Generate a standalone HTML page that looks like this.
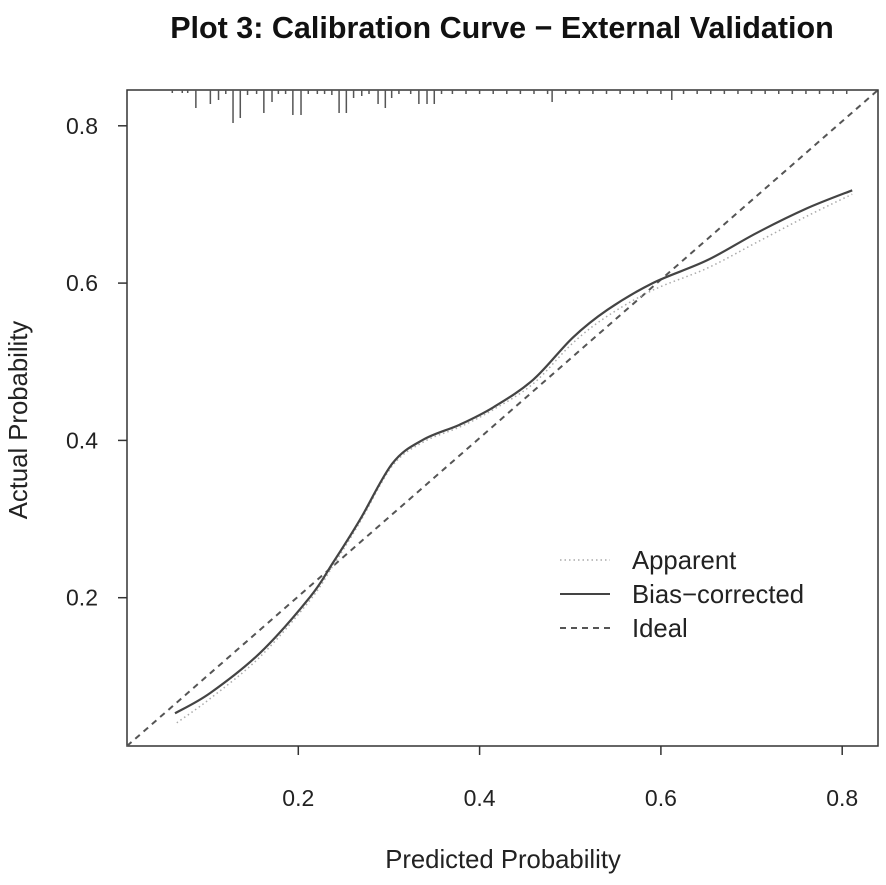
<!DOCTYPE html>
<html><head><meta charset="utf-8"><style>
body{margin:0;background:#fff;}
svg{display:block;font-family:"Liberation Sans",Arial,sans-serif;}
</style></head><body>
<svg id="chart" width="886" height="885">
<text x="502" y="38" text-anchor="middle" font-size="30.5" font-weight="bold" fill="#111">Plot 3: Calibration Curve − External Validation</text>
<rect x="127" y="90" width="751" height="656" fill="none" stroke="#333" stroke-width="1.5"/>
<g id="xt"></g>
<g id="yt"></g>
<g id="rug"></g>
<g id="lines"></g>
<text x="503" y="868" text-anchor="middle" font-size="25.7" fill="#222">Predicted Probability</text>
<text transform="translate(27,420) rotate(-90)" text-anchor="middle" font-size="25.7" fill="#222">Actual Probability</text>
<g>
<g><line x1="560" y1="560" x2="610" y2="560" stroke="#aaa" stroke-width="1.5" stroke-dasharray="1.5,3"/><text x="632" y="569" font-size="25.7" fill="#222">Apparent</text></g>
<g><line x1="560" y1="594" x2="610" y2="594" stroke="#444" stroke-width="2"/><text x="632" y="603" font-size="25.7" fill="#222">Bias−corrected</text></g>
<g><line x1="560" y1="628" x2="610" y2="628" stroke="#555" stroke-width="2" stroke-dasharray="6,5"/><text x="632" y="637" font-size="25.7" fill="#222">Ideal</text></g>
</g>
</svg>
<script>
const xTicks=[0.2,0.4,0.6,0.8];
const yTicks=[0.2,0.4,0.6,0.8];
const biasX=[0.064,0.103,0.158,0.213,0.238,0.268,0.304,0.338,0.378,0.415,0.459,0.503,0.541,0.591,0.651,0.706,0.761,0.811];
const biasY=[0.053,0.079,0.130,0.201,0.244,0.299,0.371,0.401,0.420,0.442,0.477,0.531,0.566,0.600,0.629,0.664,0.695,0.718];
const appX=[0.066,0.103,0.158,0.213,0.238,0.268,0.304,0.338,0.378,0.415,0.459,0.503,0.541,0.591,0.651,0.706,0.761,0.811];
const appY=[0.041,0.072,0.125,0.197,0.240,0.296,0.368,0.398,0.417,0.439,0.472,0.524,0.558,0.591,0.619,0.652,0.685,0.713];
const rugX=[0.061,0.072,0.078,0.087,0.103,0.112,0.120,0.128,0.136,0.144,0.154,0.162,0.171,0.178,0.186,0.194,0.203,0.211,0.221,0.229,0.237,0.245,0.253,0.261,0.270,0.278,0.288,0.296,0.303,0.311,0.324,0.333,0.342,0.350,0.358,0.370,0.385,0.400,0.415,0.430,0.445,0.460,0.475,0.480,0.495,0.510,0.525,0.540,0.555,0.570,0.585,0.600,0.612,0.625,0.640,0.655,0.670,0.685,0.700,0.715,0.730,0.745,0.760,0.775,0.790,0.805];
const rugH=[3,3,3,18,14,10,4,33,28,5,4,23,12,4,4,25,25,4,4,4,5,23,23,8,6,4,14,18,8,4,4,14,14,14,4,4,4,4,4,4,4,4,4,12,4,4,4,4,4,4,4,4,10,4,4,4,4,4,4,4,4,4,4,4,4,4];
const X=v=>117+v*906.5, Y=v=>755-v*786.5;
const NS='http://www.w3.org/2000/svg';
function mk(tag,attrs,parent){const e=document.createElementNS(NS,tag);for(const k in attrs)e.setAttribute(k,attrs[k]);parent.appendChild(e);return e;}
const xt=document.getElementById('xt'),yt=document.getElementById('yt'),rug=document.getElementById('rug'),lines=document.getElementById('lines');
xTicks.forEach(t=>{
 const l=mk('line',{x1:X(t),x2:X(t),y1:746,y2:755,stroke:'#333','stroke-width':1.5},xt);
 
 
 const tx=mk('text',{x:X(t),y:806,'text-anchor':'middle','font-size':23,fill:'#222'},xt);tx.textContent=t.toFixed(1);
 
 
});
yTicks.forEach(t=>{
 const l=mk('line',{x1:118,x2:127,y1:Y(t),y2:Y(t),stroke:'#333','stroke-width':1.5},yt);
 
 
 const tx=mk('text',{x:98,y:Y(t)+8,'text-anchor':'end','font-size':23,fill:'#222'},yt);tx.textContent=t.toFixed(1);
 
 
});
rugX.forEach((v,i)=>{
 const l=mk('line',{x1:X(v),x2:X(v),y1:90,y2:90+rugH[i],stroke:'#555','stroke-width':1.5},rug);
 
 
});
const ideal=mk('line',{x1:127,y1:746,x2:878,y2:90,stroke:'#555','stroke-width':2,'stroke-dasharray':'6,5'},lines);


function path(xs,ys){
 const p=xs.map((v,i)=>[X(v),Y(ys[i])]);
 let d='M'+p[0][0].toFixed(1)+','+p[0][1].toFixed(1);
 for(let i=0;i<p.length-1;i++){
  const p0=p[i-1]||p[i],p1=p[i],p2=p[i+1],p3=p[i+2]||p2;
  const c1=[p1[0]+(p2[0]-p0[0])/6,p1[1]+(p2[1]-p0[1])/6];
  const c2=[p2[0]-(p3[0]-p1[0])/6,p2[1]-(p3[1]-p1[1])/6];
  d+=' C'+c1.map(n=>n.toFixed(1)).join(',')+' '+c2.map(n=>n.toFixed(1)).join(',')+' '+p2.map(n=>n.toFixed(1)).join(',');
 }
 return d;
}
const ap=mk('path',{d:path(appX,appY),fill:'none',stroke:'#aaa','stroke-width':1.5,'stroke-dasharray':'1.5,3'},lines);


const bc=mk('path',{d:path(biasX,biasY),fill:'none',stroke:'#444','stroke-width':2.2,'stroke-linejoin':'round'},lines);


</script>
</body></html>
